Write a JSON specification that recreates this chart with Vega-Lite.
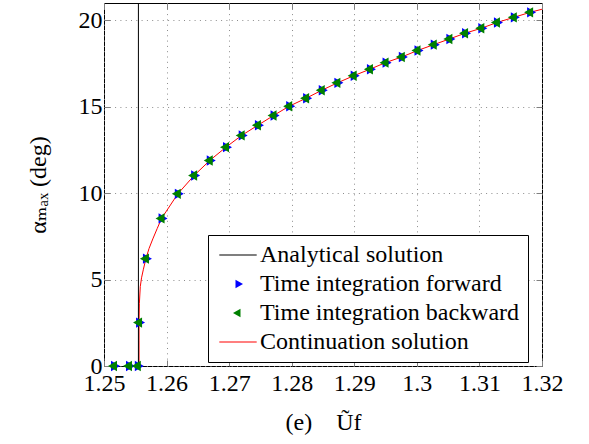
{
  "$schema": "https://vega.github.io/schema/vega-lite/v6.json",
  "width": 438,
  "height": 363,
  "autosize": {"type": "none"},
  "padding": {"left": 104, "top": 3, "right": 47, "bottom": 78},
  "config": {
    "view": {"stroke": "black", "strokeWidth": 1},
    "font": "Liberation Serif, DejaVu Serif, serif",
    "axis": {
      "labelFont": "Liberation Serif, DejaVu Serif, serif",
      "titleFont": "Liberation Serif, DejaVu Serif, serif",
      "labelFontSize": 24,
      "titleFontSize": 24,
      "labelColor": "black",
      "titleColor": "black",
      "titleFontWeight": "normal",
      "gridColor": "#8c8c8c",
      "gridDash": [1, 4.3],
      "gridWidth": 1,
      "domain": false,
      "tickColor": "#7f7f7f",
      "tickWidth": 1
    }
  },
  "datasets": {
    "analytic": [{"U": 1.2555}],
    "continuation": [
      {"U": 1.2556, "alpha": 0},
      {"U": 1.2556, "alpha": 1.5},
      {"U": 1.2556, "alpha": 2.5},
      {"U": 1.25565, "alpha": 3.6},
      {"U": 1.2558, "alpha": 4.6},
      {"U": 1.256, "alpha": 5.1},
      {"U": 1.2563, "alpha": 5.6},
      {"U": 1.2567, "alpha": 6.21},
      {"U": 1.2572, "alpha": 6.8},
      {"U": 1.2578, "alpha": 7.35},
      {"U": 1.2585, "alpha": 7.95},
      {"U": 1.2592, "alpha": 8.54},
      {"U": 1.2618, "alpha": 9.96},
      {"U": 1.2644, "alpha": 11.02},
      {"U": 1.2669, "alpha": 11.89},
      {"U": 1.2695, "alpha": 12.66},
      {"U": 1.272, "alpha": 13.34},
      {"U": 1.2746, "alpha": 13.93},
      {"U": 1.2771, "alpha": 14.49},
      {"U": 1.2796, "alpha": 15.03},
      {"U": 1.2823, "alpha": 15.49},
      {"U": 1.2848, "alpha": 15.95},
      {"U": 1.2873, "alpha": 16.38},
      {"U": 1.2899, "alpha": 16.79},
      {"U": 1.2925, "alpha": 17.17},
      {"U": 1.295, "alpha": 17.55},
      {"U": 1.2976, "alpha": 17.88},
      {"U": 1.3001, "alpha": 18.25},
      {"U": 1.3027, "alpha": 18.59},
      {"U": 1.3052, "alpha": 18.92},
      {"U": 1.3077, "alpha": 19.25},
      {"U": 1.3103, "alpha": 19.54},
      {"U": 1.3128, "alpha": 19.87},
      {"U": 1.3155, "alpha": 20.17},
      {"U": 1.3181, "alpha": 20.46},
      {"U": 1.32, "alpha": 20.64}
    ],
    "timeint": [
      {"U": 1.2516, "alpha": 0},
      {"U": 1.254, "alpha": 0},
      {"U": 1.2554, "alpha": 0},
      {"U": 1.2556, "alpha": 2.51},
      {"U": 1.2567, "alpha": 6.21},
      {"U": 1.2592, "alpha": 8.54},
      {"U": 1.2618, "alpha": 9.96},
      {"U": 1.2644, "alpha": 11.02},
      {"U": 1.2669, "alpha": 11.89},
      {"U": 1.2695, "alpha": 12.66},
      {"U": 1.272, "alpha": 13.34},
      {"U": 1.2746, "alpha": 13.93},
      {"U": 1.2771, "alpha": 14.49},
      {"U": 1.2796, "alpha": 15.03},
      {"U": 1.2823, "alpha": 15.49},
      {"U": 1.2848, "alpha": 15.95},
      {"U": 1.2873, "alpha": 16.38},
      {"U": 1.2899, "alpha": 16.79},
      {"U": 1.2925, "alpha": 17.17},
      {"U": 1.295, "alpha": 17.55},
      {"U": 1.2976, "alpha": 17.88},
      {"U": 1.3001, "alpha": 18.25},
      {"U": 1.3027, "alpha": 18.59},
      {"U": 1.3052, "alpha": 18.92},
      {"U": 1.3077, "alpha": 19.25},
      {"U": 1.3103, "alpha": 19.54},
      {"U": 1.3128, "alpha": 19.87},
      {"U": 1.3155, "alpha": 20.17},
      {"U": 1.3181, "alpha": 20.46}
    ],
    "legend": [
      {"series": "Analytical solution"},
      {"series": "Time integration forward"},
      {"series": "Time integration backward"},
      {"series": "Continuation solution"}
    ]
  },
  "layer": [
    {
      "data": {"name": "continuation"},
      "mark": {"type": "line", "color": "#ff0000", "strokeWidth": 1, "clip": true},
      "encoding": {
        "x": {
          "field": "U", "type": "quantitative",
          "scale": {"domain": [1.25, 1.32], "nice": false, "zero": false},
          "axis": {
            "orient": "bottom",
            "values": [1.25, 1.26, 1.27, 1.28, 1.29, 1.3, 1.31, 1.32],
            "format": "~g",
            "grid": true,
            "tickSize": -6,
            "labelPadding": 11,
            "labelFlush": false,
            "title": "(e)\u00a0\u00a0\u00a0\u00a0Ũf",
            "titlePadding": 15
          }
        },
        "y": {
          "field": "alpha", "type": "quantitative",
          "scale": {"domain": [0, 21], "nice": false},
          "axis": {
            "orient": "left",
            "values": [0, 5, 10, 15, 20],
            "format": "d",
            "grid": true,
            "tickSize": -6,
            "labelPadding": 8,
            "labelFlush": false,
            "title": "αₘₐₓ (deg)",
            "titlePadding": 28
          }
        }
      }
    },
    {
      "data": {"name": "analytic"},
      "mark": {"type": "rule", "color": "black", "strokeWidth": 1},
      "encoding": {
        "x": {"field": "U", "type": "quantitative", "axis": null}
      }
    },
    {
      "data": {"name": "timeint"},
      "mark": {"type": "point", "shape": "M1,0L-0.5,0.866L-0.5,-0.866Z", "filled": true, "color": "#0000ff", "size": 144, "opacity": 1},
      "encoding": {
        "x": {
          "field": "U", "type": "quantitative",
          "axis": {"orient": "top", "labels": false, "grid": false, "tickSize": -6, "title": null, "values": [1.25, 1.26, 1.27, 1.28, 1.29, 1.3, 1.31, 1.32]}
        },
        "y": {
          "field": "alpha", "type": "quantitative",
          "axis": {"orient": "right", "labels": false, "grid": false, "tickSize": -6, "title": null, "values": [0, 5, 10, 15, 20]}
        }
      }
    },
    {
      "data": {"name": "timeint"},
      "mark": {"type": "point", "shape": "M-1,0L0.5,0.866L0.5,-0.866Z", "filled": true, "color": "#008000", "size": 144, "opacity": 1},
      "encoding": {
        "x": {"field": "U", "type": "quantitative", "axis": null},
        "y": {"field": "alpha", "type": "quantitative", "axis": null}
      }
    },
    {
      "data": {"name": "legend"},
      "mark": {"type": "point", "filled": true, "opacity": 0},
      "encoding": {
        "color": {
          "field": "series", "type": "nominal",
          "scale": {
            "domain": ["Analytical solution", "Time integration forward", "Time integration backward", "Continuation solution"],
            "range": ["#000000", "#0000ff", "#008000", "#ff0000"]
          },
          "legend": {
            "title": null,
            "orient": "none",
            "legendX": 104,
            "legendY": 232,
            "strokeColor": "black",
            "fillColor": "white",
            "padding": 8,
            "symbolSize": 400,
            "symbolOffset": 10,
            "symbolOpacity": 1,
            "symbolStrokeWidth": 0,
            "labelOffset": 10,
            "labelFont": "Liberation Serif, DejaVu Serif, serif",
            "labelFontSize": 24,
            "labelColor": "black",
            "labelLimit": 500,
            "rowPadding": 5,
            "encode": {
              "symbols": {"update": {"opacity": {"value": 1}, "fillOpacity": {"value": 1}}}
            }
          }
        },
        "shape": {
          "field": "series", "type": "nominal",
          "scale": {
            "domain": ["Analytical solution", "Time integration forward", "Time integration backward", "Continuation solution"],
            "range": [
              "M-1.87,-0.055L1.87,-0.055L1.87,0.055L-1.87,0.055Z",
              "M0.5,0L-0.25,0.433L-0.25,-0.433Z",
              "M-0.5,0L0.25,0.433L0.25,-0.433Z",
              "M-1.87,-0.055L1.87,-0.055L1.87,0.055L-1.87,0.055Z"
            ]
          },
          "legend": {
            "title": null,
            "orient": "none",
            "legendX": 104,
            "legendY": 232
          }
        }
      }
    }
  ],
  "resolve": {"axis": {"x": "independent", "y": "independent"}}
}
